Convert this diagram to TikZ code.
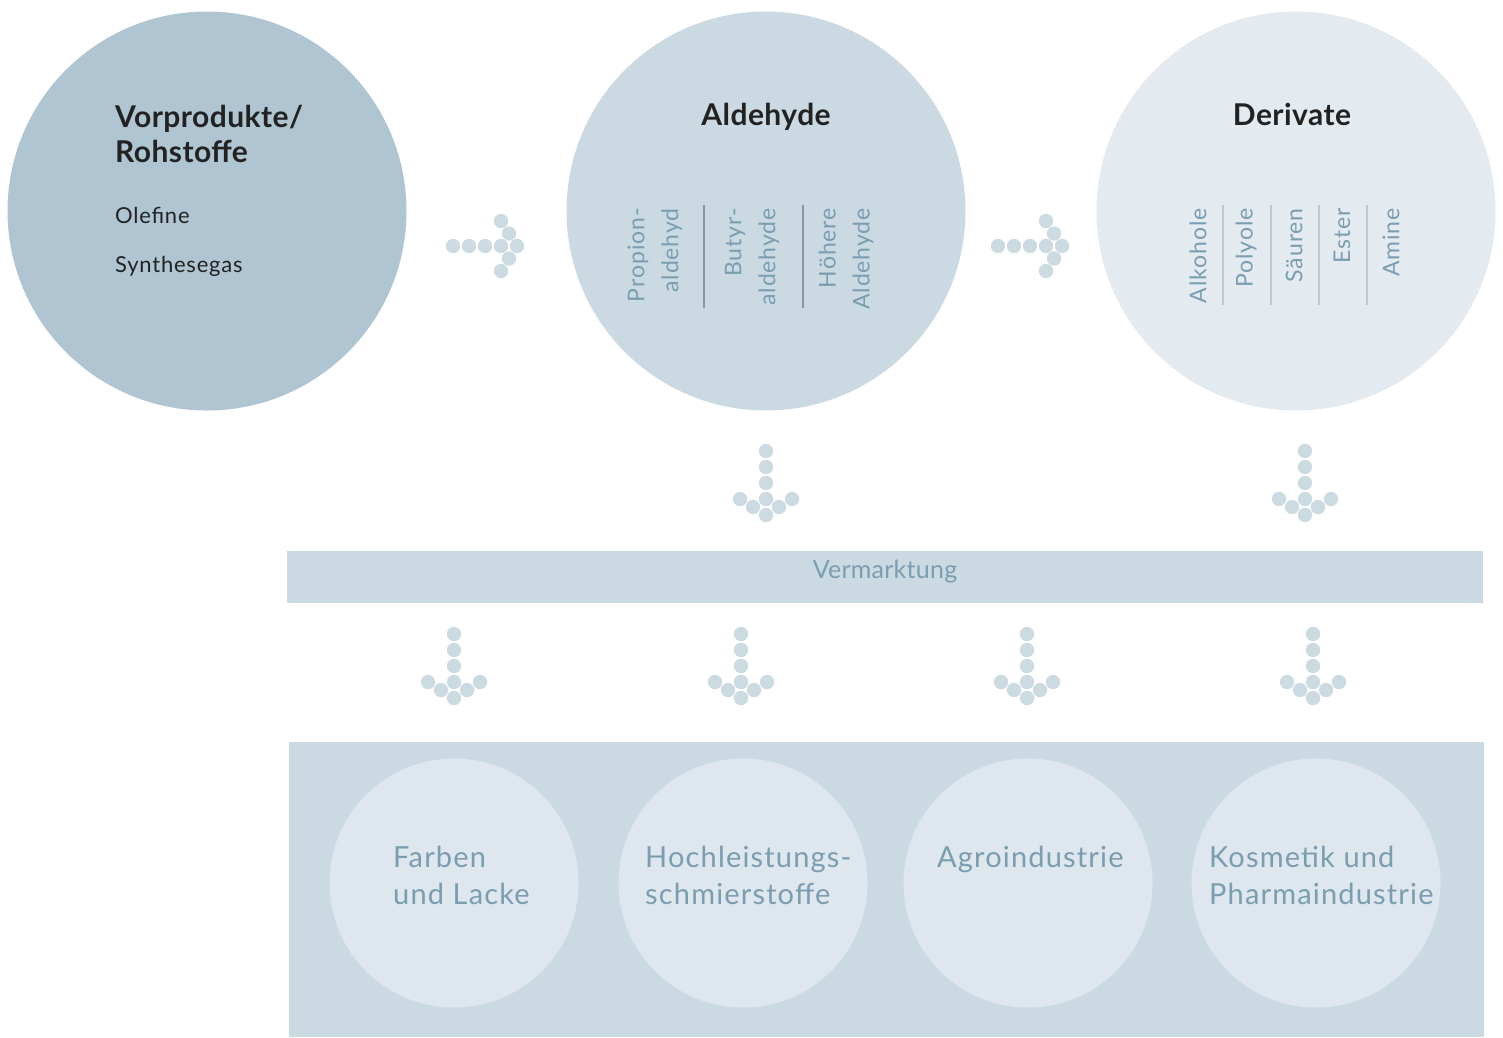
\documentclass[tikz,border=0pt]{standalone}
\usepackage{fontspec}
\setmainfont{Lato}
\definecolor{cA}{HTML}{AFC5D2}
\definecolor{cB}{HTML}{CBDAE2}
\definecolor{cC}{HTML}{E3EBF1}
\definecolor{dotc}{HTML}{CCDAE2}
\definecolor{innerc}{HTML}{DDE7ED}
\definecolor{txtblue}{HTML}{7A9DB0}
\definecolor{txtdark}{HTML}{222222}
\definecolor{lineA}{HTML}{8C969B}
\definecolor{lineB}{HTML}{C2C8CC}
\tikzset{
  bigcirc/.style={circle, minimum size=399pt, inner sep=0pt},
  smallcirc/.style={circle, minimum size=249pt, inner sep=0pt, fill=innerc},
  head/.style={font=\bfseries\fontsize{30}{35}\selectfont\addfontfeature{LetterSpace=1.5}, text=txtdark, inner sep=0pt},
  sub/.style={font=\fontsize{22}{26}\selectfont\addfontfeature{LetterSpace=3.5}, text=txtdark, inner sep=0pt},
  rot/.style={rotate=90, anchor=east, align=right, inner sep=0pt, text=txtblue,
     font=\fontsize{23}{34}\selectfont\addfontfeature{LetterSpace=4}},
  btxt/.style={anchor=base west, inner sep=0pt, text=txtblue, font=\fontsize{29}{37}\selectfont\addfontfeature{LetterSpace=4}},
  dotpt/.style={fill=dotc},
  rdots/.pic={
    \foreach \p in {(-64,0),(-48,0),(-32,0),(-16,0),(0,0),(-8,12.5),(-8,-12.5),(-16,25),(-16,-25)}
      \fill[dotpt] \p circle (7.2);
  },
  ddots/.pic={
    \foreach \p in {(0,-64),(0,-48),(0,-32),(0,-16),(0,0),(13,-8),(-13,-8),(26,-16),(-26,-16)}
      \fill[dotpt] \p circle (7.2);
  }
}
\begin{document}
\begin{tikzpicture}[x=1pt,y=-1pt]
\useasboundingbox (0,0) rectangle (1503,1037);
% big circles
\node[bigcirc, fill=cA] (src) at (207,211) {};
\node[bigcirc, fill=cB] (ald) at (766,211) {};
\node[bigcirc, fill=cC] (der) at (1296,211) {};
% source text
\node[head, anchor=base west] (h1a) at (115,127) {Vorprodukte/};
\node[head, anchor=base west] (h1b) at (115,162) {Rohstoffe};
\node[sub, anchor=base west] (s1) at (115,223) {Olefine};
\node[sub, anchor=base west] (s2) at (115,272) {Synthesegas};
% headings
\node[head, anchor=base] (h2) at (766,125) {Aldehyde};
\node[head, anchor=base] (h3) at (1292,125) {Derivate};
% aldehyde columns
\node[rot] (a1) at (655,208) {Propion-\\aldehyd};
\node[rot] (a2) at (752,208) {Butyr-\\aldehyde};
\node[rot] (a3) at (846,208) {Höhere\\Aldehyde};
\coordinate (la1) at (704,205); \coordinate (la1b) at (704,308);
\coordinate (la2) at (803,205); \coordinate (la2b) at (803,308);
\draw[lineA, line width=1.3pt] (la1) -- (la1b);
\draw[lineA, line width=1.3pt] (la2) -- (la2b);
% derivate columns
\node[rot] (d1) at (1198,208) {Alkohole};
\node[rot] (d2) at (1246,208) {Polyole};
\node[rot] (d3) at (1294,208) {Säuren};
\node[rot] (d4) at (1342,208) {Ester};
\node[rot] (d5) at (1391,208) {Amine};
\foreach \xx/\nm in {1223/l1,1271/l2,1319/l3,1367/l4}{
  \coordinate (\nm a) at (\xx,205); \coordinate (\nm b) at (\xx,305);
  \draw[lineB, line width=1.3pt] (\nm a) -- (\nm b);
}
% arrows
\pic at (517,246) {rdots};
\pic at (1062,246) {rdots};
\pic at (766,515) {ddots};
\pic at (1305,515) {ddots};
% Vermarktung bar
\node[fill=cB, minimum width=1196pt, minimum height=52pt, inner sep=0pt, anchor=north west] (bar) at (287,551) {};
\node[anchor=base, inner sep=0pt, text=txtblue, font=\fontsize{25}{30}\selectfont\addfontfeature{LetterSpace=1}] (vm) at (885,578) {Vermarktung};
% arrows below bar
\pic at (454,698) {ddots};
\pic at (741,698) {ddots};
\pic at (1027,698) {ddots};
\pic at (1313,698) {ddots};
% bottom panel
\node[fill=cB, minimum width=1195pt, minimum height=295pt, inner sep=0pt, anchor=north west] (panel) at (289,742) {};
\node[smallcirc] (m1) at (454,883) {};
\node[smallcirc] (m2) at (743,883) {};
\node[smallcirc] (m3) at (1028,883) {};
\node[smallcirc] (m4) at (1316,883) {};
\node[btxt] (t1a) at (393,867) {Farben};
\node[btxt] (t1b) at (393,904) {und Lacke};
\node[btxt] (t2a) at (645,867) {Hochleistungs-};
\node[btxt] (t2b) at (645,904) {schmierstoffe};
\node[btxt] (t3a) at (937,867) {Agroindustrie};
\node[btxt] (t4a) at (1209,867) {Kosmetik und};
\node[btxt] (t4b) at (1209,904) {Pharmaindustrie};
\end{tikzpicture}
\end{document}
